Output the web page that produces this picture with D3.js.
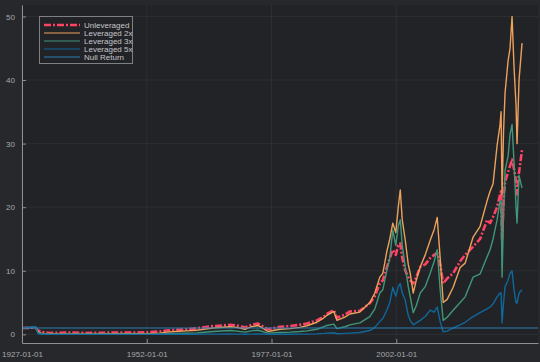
<!DOCTYPE html>
<html>
<head>
<meta charset="utf-8">
<script src="https://cdn.jsdelivr.net/npm/d3@7"></script>
<style>
  html, body { margin: 0; padding: 0; background: #26282c; }
  svg { display: block; }
  text { font-family: "Liberation Sans", Arial, sans-serif; }
</style>
</head>
<body>
<svg id="chart" width="540" height="362"></svg>
<script>
// decimal years, the picture's axis runs a bit stretched so events sit late
var times = [
  1927.0, 1929.7, 1930.2, 1930.8, 1931.6, 1932.5, 1934.0, 1937.0, 1940.0, 1943.0,
  1946.0, 1949.0, 1952.0, 1954.7, 1956.0, 1957.7, 1960.0, 1962.0, 1963.0, 1965.3,
  1968.7, 1970.0, 1971.7, 1973.0, 1974.3, 1976.3, 1978.7, 1980.7, 1982.7, 1984.1,
  1986.1, 1987.5, 1988.1, 1989.5, 1990.1, 1991.7, 1992.7, 1994.7, 1996.7, 1997.7,
  1998.7, 1999.3, 2000.1, 2000.7, 2001.3, 2001.9, 2002.4, 2002.8, 2003.2, 2003.8,
  2004.4, 2004.8, 2005.4, 2006.0, 2006.8, 2007.8, 2008.8, 2009.6, 2010.2, 2010.8,
  2011.4, 2012.2, 2013.4, 2014.8, 2015.8, 2017.4, 2018.8, 2020.2, 2020.8, 2021.4,
  2022.2, 2022.8, 2023.0, 2023.2, 2023.5, 2023.8, 2024.4, 2024.8, 2025.2, 2025.6,
  2026.0, 2026.2, 2026.6, 2027.2
];

var unleveraged = [
  1.0, 1.05, 0.6, 0.4, 0.3, 0.22, 0.25, 0.28, 0.22, 0.25,
  0.3, 0.28, 0.32, 0.45, 0.6, 0.7, 0.8, 0.95, 1.05, 1.3,
  1.5, 1.4, 1.1, 1.5, 1.7, 0.8, 1.2, 1.3, 1.5, 1.7,
  2.2, 2.8, 3.2, 3.8, 2.6, 3.1, 3.6, 3.7, 4.9, 6.0,
  8.0, 8.5, 10.5, 12.0, 13.3, 12.5, 14.0, 14.3, 12.0, 10.0,
  9.0, 8.5, 8.0, 9.0, 10.6, 11.0, 12.0, 12.5, 12.8, 11.0,
  8.0, 8.8, 9.6, 11.5, 12.5, 13.8, 15.0, 18.0, 17.5, 18.5,
  20.0, 22.0, 22.5, 15.0, 21.0, 24.0, 25.5, 26.5, 27.5, 26.0,
  24.0, 22.0, 25.5, 29.0
];

var leveraged2x = [
  1.0, 1.1, 0.4, 0.2, 0.1, 0.05, 0.06, 0.08, 0.06, 0.07,
  0.1, 0.1, 0.12, 0.2, 0.35, 0.45, 0.55, 0.65, 0.75, 1.0,
  1.2, 1.1, 0.8, 1.2, 1.4, 0.45, 0.8, 0.9, 1.1, 1.35,
  1.9, 2.6, 3.0, 3.6, 2.2, 2.7, 3.2, 3.5, 5.0, 6.5,
  9.0, 9.6, 13.0, 15.0, 17.5, 16.0, 20.0, 22.7, 18.0, 14.8,
  11.0, 9.6, 6.5, 8.5, 10.6, 12.5, 14.8, 16.5, 18.4, 12.0,
  5.0, 5.5, 7.4, 10.5, 11.2, 15.3, 17.0, 21.0, 22.5, 23.7,
  29.7, 33.0, 35.0, 22.0, 32.0, 38.0, 43.0, 45.0, 50.0, 42.0,
  36.0, 30.0, 40.0, 45.8
];

var leveraged3x = [
  1.0, 1.15, 0.25, 0.1, 0.04, 0.02, 0.02, 0.03, 0.02, 0.02,
  0.03, 0.03, 0.04, 0.06, 0.1, 0.14, 0.18, 0.24, 0.3, 0.45,
  0.6, 0.5, 0.35, 0.55, 0.65, 0.2, 0.3, 0.35, 0.45, 0.55,
  0.8, 1.2, 1.4, 1.6, 0.9, 1.2, 1.5, 1.8, 2.8, 4.0,
  6.5, 7.0, 10.0, 12.0, 16.4, 14.0, 17.0, 18.0, 14.0, 10.6,
  7.5, 5.9, 3.4, 4.5, 6.5, 7.5, 9.6, 11.5, 13.3, 7.0,
  2.2, 2.7, 3.8, 5.0, 5.9, 9.0, 9.5, 12.2, 13.3, 15.0,
  18.0, 21.0, 21.0, 9.0, 19.0, 25.8, 28.0, 31.5, 33.0, 27.0,
  20.0, 17.5, 25.0, 23.0
];

var leveraged5x = [
  1.0, 1.2, 0.1, 0.02, 0.01, 0.0, 0.0, 0.0, 0.0, 0.0,
  0.0, 0.0, 0.0, 0.01, 0.01, 0.01, 0.02, 0.02, 0.03, 0.04,
  0.05, 0.04, 0.02, 0.04, 0.05, 0.01, 0.02, 0.02, 0.03, 0.04,
  0.08, 0.15, 0.2, 0.25, 0.1, 0.15, 0.2, 0.3, 0.6, 1.1,
  2.0, 2.5, 3.8, 5.0, 7.4, 6.0, 7.5, 8.0, 6.5, 5.4,
  3.0, 2.2, 1.5, 1.8, 2.2, 2.8, 3.8, 3.5, 4.3, 2.0,
  0.4, 0.5, 1.0, 1.5, 1.9, 2.8, 3.4, 4.0, 4.3, 4.8,
  5.9, 6.5, 6.5, 1.8, 5.0, 7.5, 8.5, 9.6, 10.0, 7.0,
  5.0, 4.9, 6.5, 7.0
];

var nullReturn = [1];

var yTicks = [0, 10, 20, 30, 40, 50];
var xTickYears = [1927, 1952, 1977, 2002];
var xTickLabels = ['1927-01-01', '1952-01-01', '1977-01-01', '2002-01-01'];

var seriesNames = ['Unleveraged', 'Leveraged 2x', 'Leveraged 3x', 'Leveraged 5x', 'Null Return'];

var svg = d3.select('#chart');
var W = 540, H = 362;
var plotLeft = 22, plotRight = 538, plotTop = 5, plotBottom = 343;

var x = d3.scaleLinear().domain([1927, 2030.4]).range([plotLeft, plotRight]);
var y = d3.scaleLinear().domain([-1.36, 51.8]).range([plotBottom, plotTop]);

svg.append('rect').attr('width', W).attr('height', H).attr('fill', '#26282c');
svg.append('rect')
    .attr('x', plotLeft).attr('y', plotTop)
    .attr('width', plotRight - plotLeft).attr('height', plotBottom - plotTop)
    .attr('fill', '#222327');

// faint grid
var grid = svg.append('g').attr('stroke', '#ffffff').attr('stroke-opacity', 0.05);
grid.selectAll('.gx').data(xTickYears).enter().append('line')
    .attr('x1', function(d) { return x(d); }).attr('x2', function(d) { return x(d); })
    .attr('y1', plotTop).attr('y2', plotBottom);
grid.selectAll('.gy').data(yTicks).enter().append('line')
    .attr('y1', function(d) { return y(d); }).attr('y2', function(d) { return y(d); })
    .attr('x1', plotLeft).attr('x2', plotRight);

var styles = [
    { data: unleveraged, color: '#fe4365', width: 2.6, dash: '7,2,2,2' },
    { data: leveraged2x, color: '#eca25c', width: 1.4 },
    { data: leveraged3x, color: '#3f9778', width: 1.4 },
    { data: leveraged5x, color: '#10679a', width: 1.4 }
];

var line = d3.line()
    .x(function(d) { return x(d[0]); })
    .y(function(d) { return y(d[1]); });

var plot = svg.append('g');
styles.forEach(function(s) {
    plot.append('path')
        .datum(d3.zip(times, s.data))
        .attr('d', line)
        .attr('fill', 'none')
        .attr('stroke', s.color)
        .attr('stroke-width', s.width)
        .attr('stroke-linejoin', 'round')
        .attr('stroke-dasharray', s.dash || null);
});

// null return is an hline across the whole axis
plot.selectAll('.hline').data(nullReturn).enter().append('line')
    .attr('x1', plotLeft).attr('x2', plotRight)
    .attr('y1', function(d) { return y(d); }).attr('y2', function(d) { return y(d); })
    .attr('stroke', '#2b7fb4').attr('stroke-width', 1.2);

// axes
var axisColor = '#8e9094';
var xAxis = d3.axisBottom(x)
    .tickValues(xTickYears)
    .tickFormat(function(d, i) { return xTickLabels[i]; })
    .tickSizeInner(-4).tickSizeOuter(0).tickPadding(8);
var gx = svg.append('g').attr('transform', 'translate(0,' + plotBottom + ')').call(xAxis);

var yAxis = d3.axisLeft(y)
    .tickValues(yTicks)
    .tickSizeInner(-4).tickSizeOuter(0).tickPadding(7);
var gy = svg.append('g').attr('transform', 'translate(' + plotLeft + ',0)').call(yAxis);

[gx, gy].forEach(function(g) {
    g.select('.domain').attr('stroke', axisColor);
    g.selectAll('.tick line').attr('stroke', axisColor);
    g.selectAll('.tick text')
        .attr('fill', '#a6a8ab')
        .style('font-size', '8px')
        .style('font-family', '"Liberation Sans", Arial, sans-serif');
});

// legend
var legend = svg.append('g').attr('transform', 'translate(39.5,16.5)');
legend.append('rect')
    .attr('width', 93).attr('height', 47)
    .attr('fill', '#222327')
    .attr('stroke', '#7d8084').attr('stroke-width', 1);

var legendColors = ['#fe4365', '#eca25c', '#3f9778', '#10679a', '#2b7fb4'];
var rows = legend.selectAll('.row').data(seriesNames).enter().append('g')
    .attr('transform', function(d, i) { return 'translate(0,' + (8.5 + i * 8) + ')'; });
rows.append('line')
    .attr('x1', 4.5).attr('x2', 40.5)
    .attr('stroke', function(d, i) { return legendColors[i]; })
    .attr('stroke-width', function(d, i) { return i === 0 ? 2.4 : 1; })
    .attr('stroke-dasharray', function(d, i) { return i === 0 ? '7,2,2,2' : null; });
rows.append('text')
    .attr('x', 44.5).attr('y', 3)
    .attr('fill', '#c4c6c8')
    .style('font-size', '8px')
    .text(function(d) { return d; });
</script>
</body>
</html>
